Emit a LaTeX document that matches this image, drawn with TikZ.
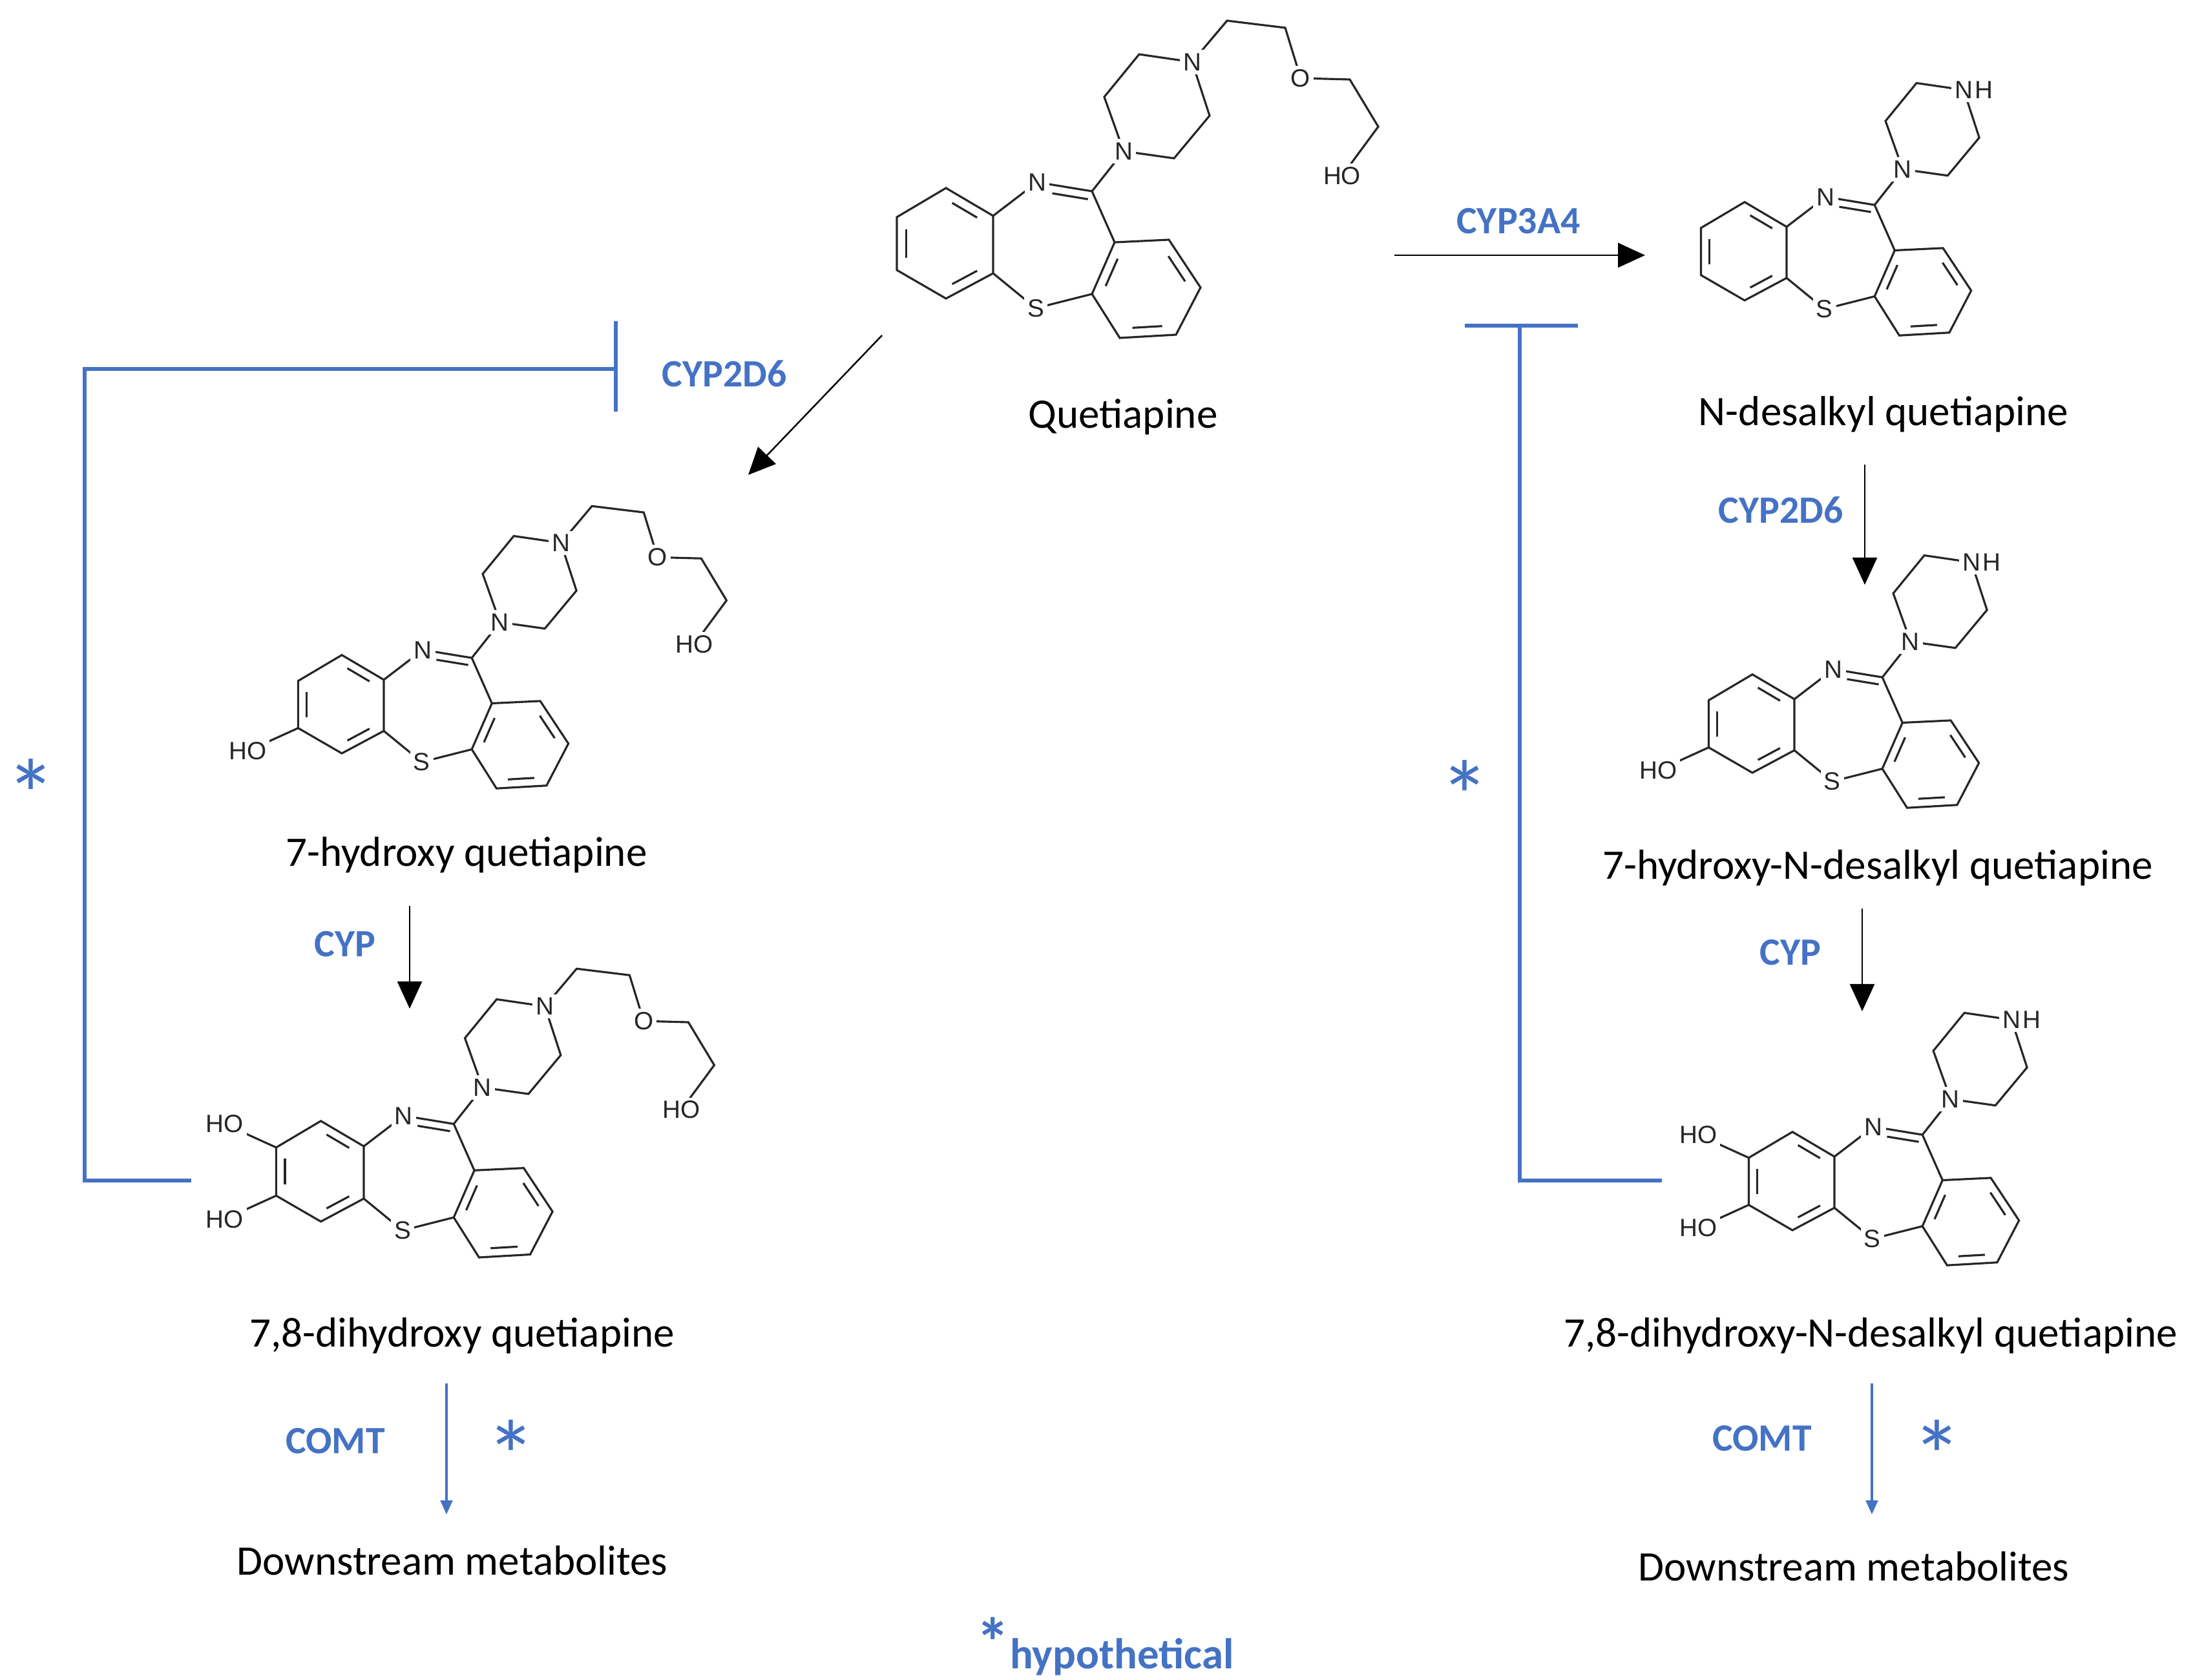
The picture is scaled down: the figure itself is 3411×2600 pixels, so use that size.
\documentclass[tikz,border=0pt]{standalone}
\usepackage{fontspec}
\setmainfont{Carlito}
\newfontfamily\atomf{Liberation Sans}
\usetikzlibrary{calc,arrows.meta}
\definecolor{cypblue}{RGB}{68,114,196}
\newcommand\dbl[3]{\draw[bond] ($(#1)!.17!(#2)!.2!(#3)$)--($(#2)!.17!(#1)!.2!(#3)$);}
\newcommand\molcore{%
\coordinate (A) at (0,0); \coordinate (Lt) at (-73,-43); \coordinate (B) at (0,89);
\coordinate (Lb) at (-73,128); \coordinate (LL) at (-149,84); \coordinate (UL) at (-149,2);
\coordinate (Lc) at (-74.5,43);
\coordinate (N) at (68,-52); \coordinate (C) at (153,-38); \coordinate (RUL) at (188,41);
\coordinate (RTR) at (272,37); \coordinate (RR) at (321,111); \coordinate (RBR) at (283,184);
\coordinate (RBL) at (196,189); \coordinate (RL) at (153,121); \coordinate (S) at (66,143);
\coordinate (Rc) at (235,114);
\coordinate (P1) at (202,-100); \coordinate (Pa) at (280,-89); \coordinate (Pb) at (335,-155);
\coordinate (P4) at (308,-238); \coordinate (Pc) at (226,-250); \coordinate (Pd) at (172,-184);
\draw[bond] (A)--(Lt)--(UL)--(LL)--(Lb)--(B)--cycle;
\draw[bond] (RUL)--(RTR)--(RR)--(RBR)--(RBL)--(RL)--cycle;
\draw[bond] (A)--(N)--(C)--(RUL) (RL)--(S)--(B) (C)--(P1)--(Pa)--(Pb)--(P4)--(Pc)--(Pd)--(P1);
\dbl{Lt}{A}{Lc}\dbl{B}{Lb}{Lc}\dbl{LL}{UL}{Lc}
\dbl{RUL}{RL}{Rc}\dbl{RTR}{RR}{Rc}\dbl{RBR}{RBL}{Rc}
\draw[bond] ($(N)!.3!(C)+(-2,13)$)--($(N)!.95!(C)+(-2,13)$);
\node[atom] at (N) {N};
\node[atom] at (S) {S};
\node[atom] at (P1) {N};}
\newcommand\chain{%
\coordinate (c1) at (362,-302); \coordinate (c2) at (452,-291); \coordinate (O) at (476,-213);
\coordinate (c3) at (552,-211); \coordinate (c4) at (596,-138); \coordinate (HO) at (540,-62);
\draw[bond] (P4)--(c1)--(c2)--(O)--(c3)--(c4)--(HO);
\node[atom] at (P4) {N}; \node[atom] at (O) {O}; \node[atom] at (HO) {HO};}
\newcommand\nh{\node[atom] (nn) at (P4) {N}; \node[atom,anchor=west,inner sep=0pt] at ([xshift=-1pt]nn.east) {H};}
\newcommand\ohA{\coordinate (hoa) at ($(LL)+(-88,40)$); \draw[bond] (LL)--(hoa); \node[atom] at (hoa) {HO};}
\newcommand\ohB{\coordinate (hob) at ($(UL)+(-88,-40)$); \draw[bond] (UL)--(hob); \node[atom] at (hob) {HO};}
\begin{document}
\begin{tikzpicture}[x=0.01cm,y=-0.01cm,
 bond/.style={line width=0.9pt,draw=black!85},
 atom/.style={fill=white,inner sep=1.5pt,font=\atomf\fontsize{11}{11}\selectfont,text=black!85},
 lbl/.style={font=\fontsize{18.5}{18.5}\selectfont},
 enz/.style={font=\bfseries\fontsize{17}{17}\selectfont,text=cypblue},
 star/.style={font=\fontsize{44}{44}\selectfont,text=cypblue},
 arr/.style={line width=0.7pt,-{Triangle[length=0.42cm,width=0.38cm]}},
 barr/.style={line width=1.4pt,draw=cypblue,-{Triangle[length=0.22cm,width=0.18cm]}},
 inh/.style={line width=1.5pt,draw=cypblue}]
\useasboundingbox (0,0) rectangle (3411,2600);
% molecules
\begin{scope}[shift={(1537,334)}] \molcore\chain \end{scope}
\begin{scope}[shift={(2765,351)},scale=0.89] \molcore\nh \end{scope}
\begin{scope}[shift={(594,1052)},scale=0.89] \molcore\chain\ohA \end{scope}
\begin{scope}[shift={(2777,1082)},scale=0.89] \molcore\nh\ohA \end{scope}
\begin{scope}[shift={(563,1774)},scale=0.91] \molcore\chain\ohA\ohB \end{scope}
\begin{scope}[shift={(2839,1790)},scale=0.89] \molcore\nh\ohA\ohB \end{scope}
% names
\node[lbl] (q) at (1738,645) {Quetiapine};
\node[lbl] (d) at (2915,641) {N-desalkyl quetiapine};
\node[lbl] (h7) at (722,1323) {7-hydroxy quetiapine};
\node[lbl] (hd7) at (2906,1343) {7-hydroxy-N-desalkyl quetiapine};
\node[lbl] (dh) at (715,2067) {7,8-dihydroxy quetiapine};
\node[lbl] (dhd) at (2895,2067) {7,8-dihydroxy-N-desalkyl quetiapine};
\node[lbl] (m1) at (700,2415) {Downstream metabolites};
\node[lbl] (m2) at (2869,2424) {Downstream metabolites};
% enzymes
\node[enz] at (2350,342) {CYP3A4};
\node[enz] at (1121,578) {CYP2D6};
\node[enz] at (2756,789) {CYP2D6};
\node[enz] at (534,1461) {CYP};
\node[enz] at (2771,1474) {CYP};
\node[enz] at (519,2230) {COMT};
\node[enz] at (2727,2226) {COMT};
% arrows
\coordinate (a1s) at (2158,395); \coordinate (a1e) at (2546,395);
\draw[arr] (a1s)--(a1e);
\coordinate (a2s) at (1365,519); \coordinate (a2e) at (1158,735);
\draw[arr] (a2s)--(a2e);
\coordinate (a3s) at (2886,719); \coordinate (a3e) at (2886,905);
\draw[arr] (a3s)--(a3e);
\coordinate (a4s) at (634,1402); \coordinate (a4e) at (634,1561);
\draw[arr] (a4s)--(a4e);
\coordinate (a5s) at (2882,1406); \coordinate (a5e) at (2882,1565);
\draw[arr] (a5s)--(a5e);
\coordinate (b1s) at (691,2141); \coordinate (b1e) at (691,2344);
\draw[barr] (b1s)--(b1e);
\coordinate (b2s) at (2897,2141); \coordinate (b2e) at (2897,2344);
\draw[barr] (b2s)--(b2e);
% inhibition
\coordinate (i1) at (296,1827); \coordinate (i1b) at (953,571);
\draw[inh] (i1)--(131,1827)--(131,571)--(i1b);
\draw[inh] (953,497)--(953,637);
\coordinate (i2) at (2572,1827); \coordinate (i2b) at (2352,504);
\draw[inh] (i2)--(2352,1827)--(i2b);
\draw[inh] (2267,504)--(2442,504);
% stars
\node[star] at (48,1230) {*};
\node[star] at (2267,1232) {*};
\node[star] at (791,2253) {*};
\node[star] at (2998,2253) {*};
\node[font=\bfseries\fontsize{19}{19}\selectfont,text=cypblue,inner sep=0pt] at (1710,2548) {\raisebox{0.1ex}{\fontsize{30}{30}\selectfont *}hypothetical};
\end{tikzpicture}
\end{document}
